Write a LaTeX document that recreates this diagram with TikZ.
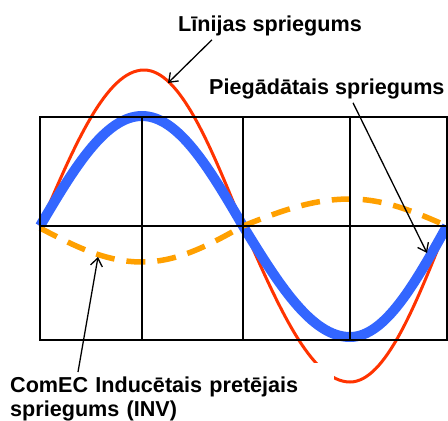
\documentclass[tikz,border=0pt]{standalone}
\usepackage{fontspec}
\setmainfont{Liberation Sans}
\usetikzlibrary{arrows.meta}

\definecolor{linered}{RGB}{255,51,0}
\definecolor{supplyblue}{RGB}{51,102,255}
\definecolor{backorange}{RGB}{255,160,0}

\begin{document}
\begin{tikzpicture}[x=1pt, y=-1pt, >={Straight Barb[length=8pt,width=12pt]},
  font=\fontsize{21.6}{24}\selectfont\bfseries,
  gridline/.style={line width=1.4pt, black},
  linewave/.style={line width=3pt, linered},
  supplywave/.style={line width=10pt, supplyblue},
  backwave/.style={line width=5.5pt, backorange, dash pattern=on 19pt off 12pt},
  pointer/.style={->, line width=1.3pt, black}]

\useasboundingbox (0,0) rectangle (448,421);

% LINE VOLTAGE (red)
\draw[linewave] (40,226) sin (144,70) cos (243,226) sin (350,382) cos (447,226);

% SUPPLIED VOLTAGE (blue)
\draw[supplywave] (40,226) sin (142,116) cos (243,226) sin (350,337) cos (447,226);

% INDUCED BACK VOLTAGE (orange, dashed)
\draw[backwave] (40,228) sin (142,262) cos (243,226) sin (350,199) cos (447,226);

% Grid
\draw[gridline] (40,117) rectangle (447,340);
\draw[gridline] (40,226) -- (447,226);
\foreach \x in {142,243,350}
  \draw[gridline] (\x,117) -- (\x,340);

% Labels
\node[anchor=base west, inner sep=0pt] (linija) at (178,31) {Līnijas spriegums};
\node[anchor=base west, inner sep=0pt] (piegad) at (209,94) {Piegādātais spriegums};
\node[anchor=north west, fill=white, text width=318pt, inner xsep=6pt, inner ysep=14pt,
  align=left] (comec) at (4,363) {ComEC Inducētais pretējais spriegums (INV)};

% Arrows
\coordinate (linijaTip) at (168,83);
\coordinate (piegadTip) at (427,253);
\coordinate (comecTip) at (98,257);
\draw[pointer] ([xshift=34pt,yshift=-4pt]linija.south west) -- (linijaTip);
\draw[pointer] ([xshift=144pt,yshift=-4pt]piegad.south west) -- (piegadTip);
\draw[pointer] ([xshift=74pt,yshift=-9pt]comec.north west) -- (comecTip);

\end{tikzpicture}
\end{document}
